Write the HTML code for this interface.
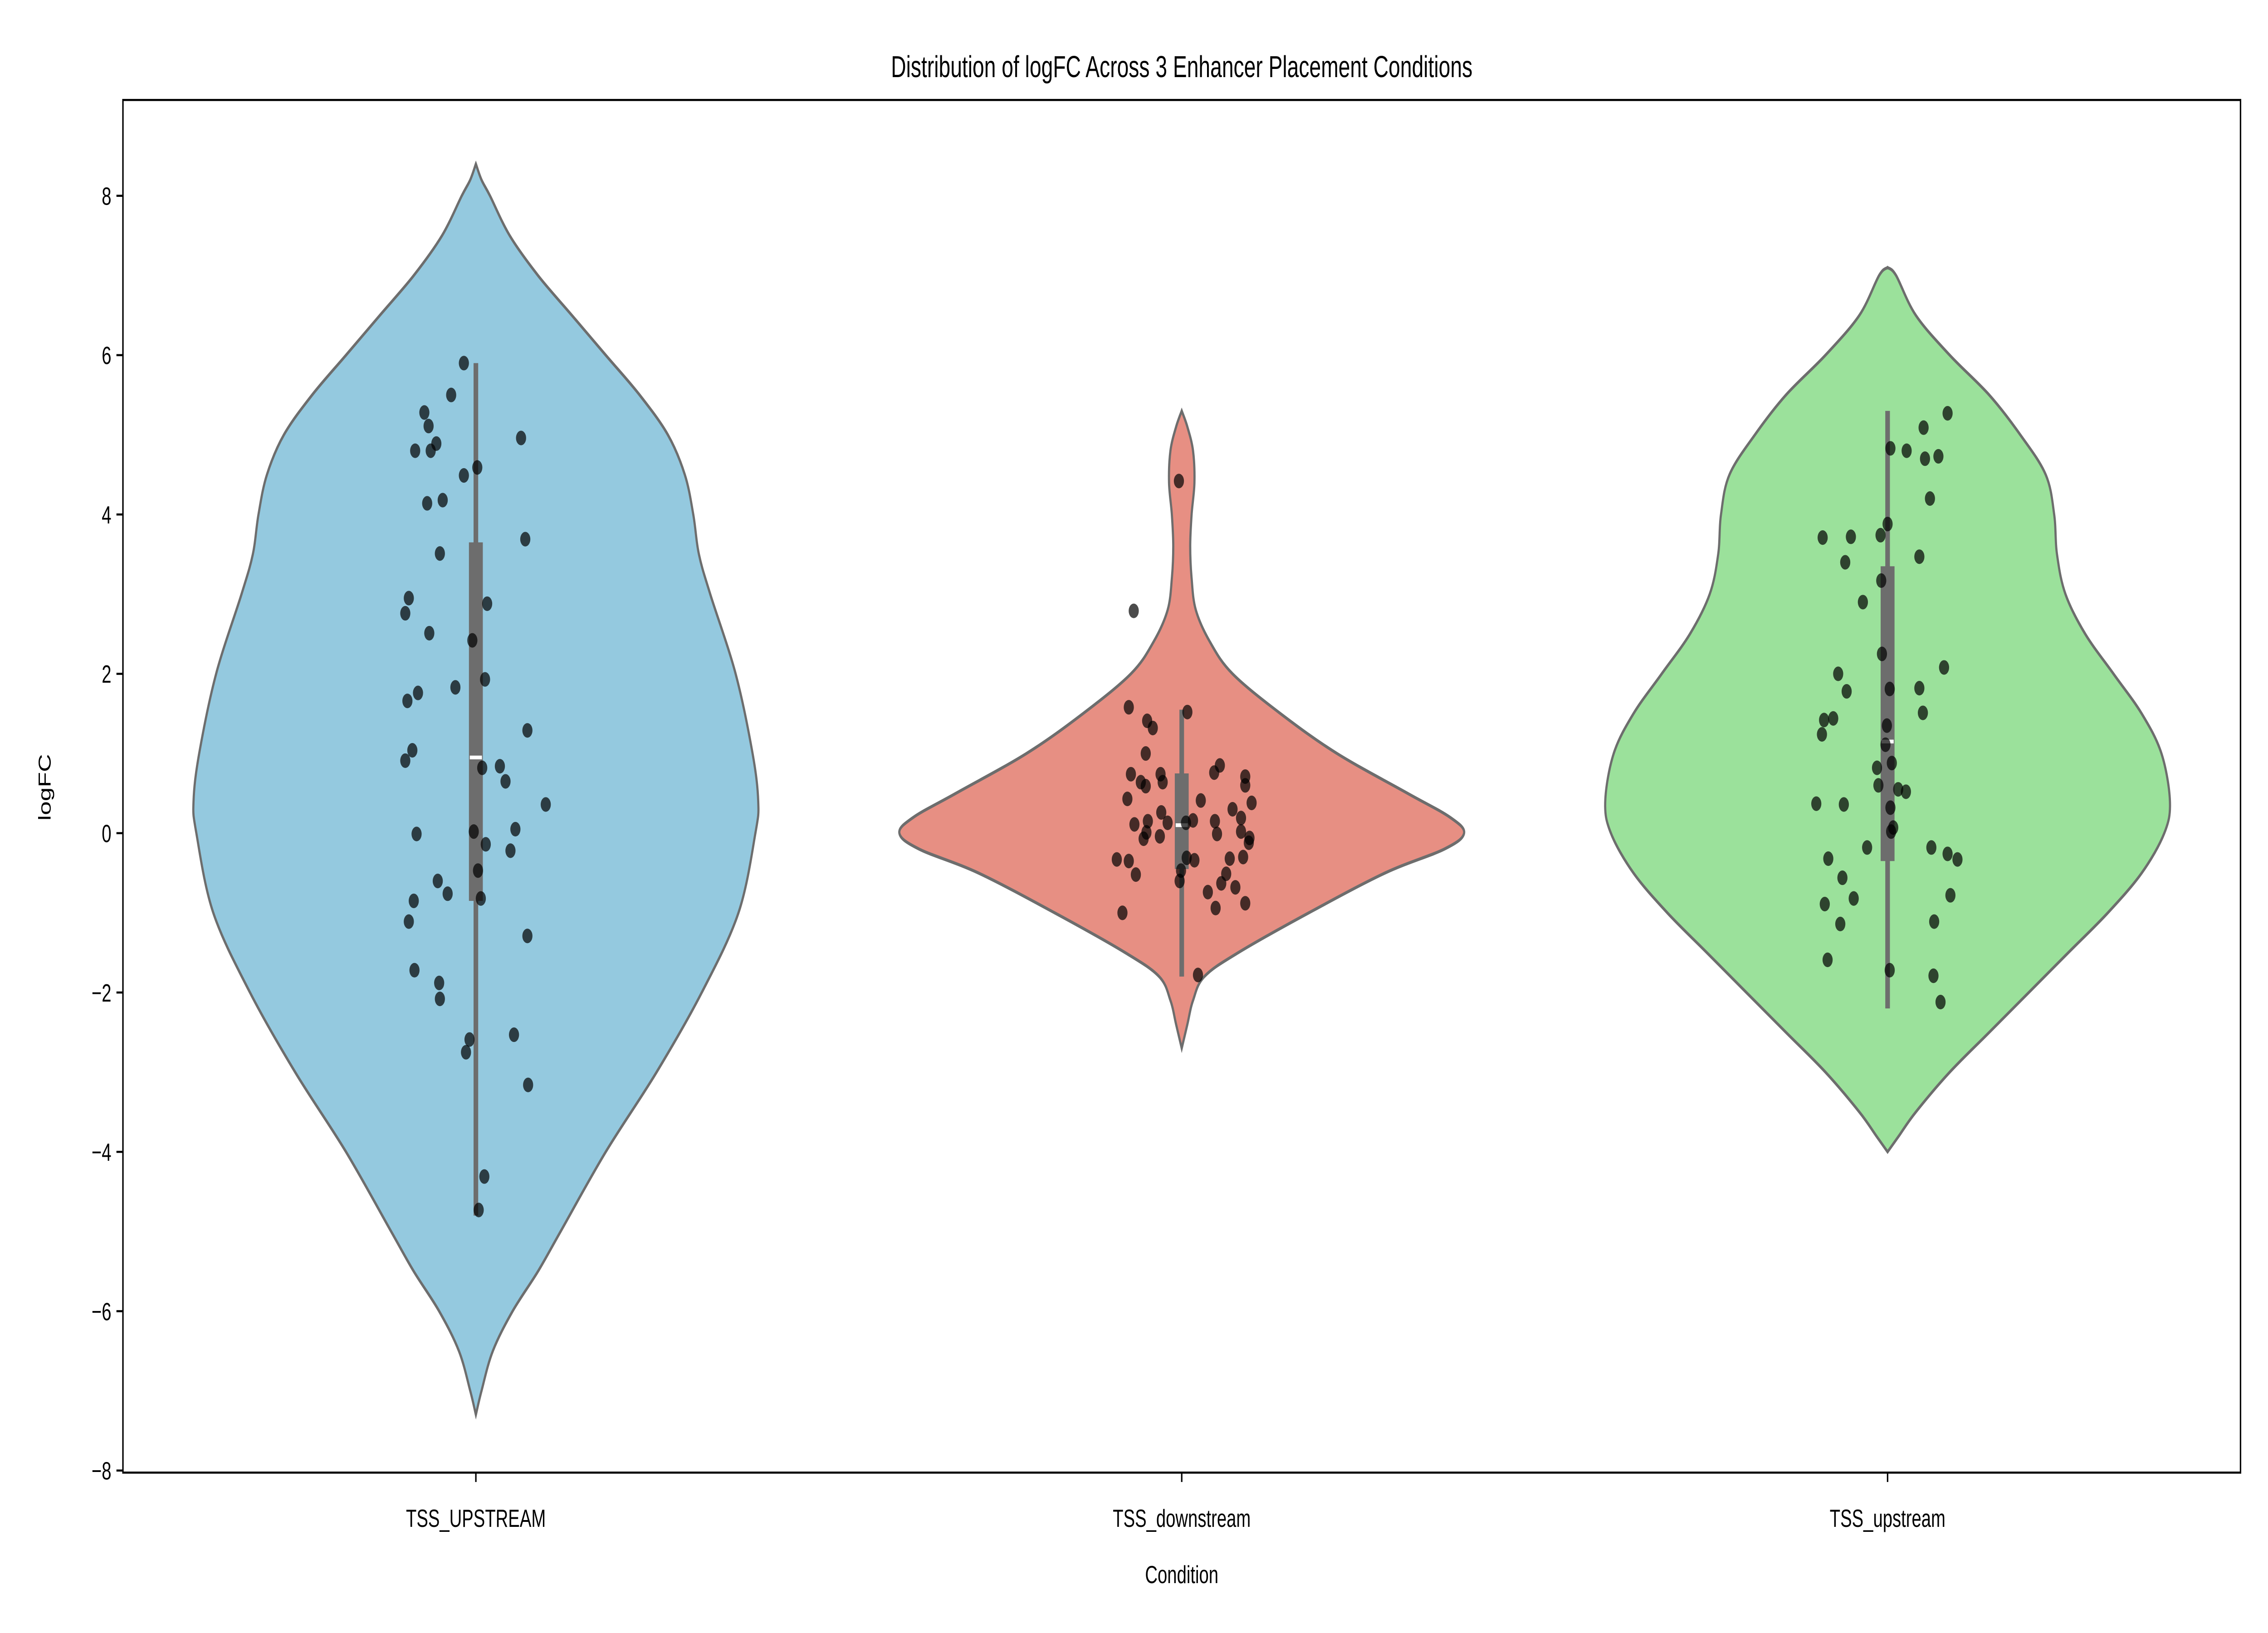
<!DOCTYPE html>
<html><head><meta charset="utf-8"><style>
html,body{margin:0;padding:0;background:#fff;width:100vw;height:100vh;overflow:hidden}
svg{display:block;width:100vw;height:100vh}
text{font-family:"Liberation Sans","DejaVu Sans",sans-serif;fill:#000}
</style></head><body>
<svg viewBox="0 0 1568 784" preserveAspectRatio="none" xmlns="http://www.w3.org/2000/svg">
<g id="chart">
<rect x="0" y="0" width="1568" height="784" fill="#fff"/>
<text x="817" y="37" font-size="14.5" text-anchor="middle">Distribution of logFC Across 3 Enhancer Placement Conditions</text>
<g id="plot"></g>
<rect x="85" y="48" width="1464" height="659" fill="none" stroke="#000" stroke-width="1"/>
<text x="817" y="760" font-size="12" text-anchor="middle">Condition</text>
<text x="0" y="0" font-size="12" text-anchor="middle" transform="translate(35,378) rotate(-90)">logFC</text>
</g>
</svg>
<script>
const categories = ["TSS_UPSTREAM", "TSS_downstream", "TSS_upstream"];
const fills = ["#94c9df", "#e78f83", "#9be19b"];
const yTicks = [-8, -6, -4, -2, 0, 2, 4, 6, 8];
const yTickLabels = ["\u22128", "\u22126", "\u22124", "\u22122", "0", "2", "4", "6", "8"];

// violin density profiles: [value, relative half-width]
const profile1 = [[8.4,0],[8.2,0.02],[8,0.05],[7.5,0.12],[7,0.22],[6.5,0.34],[6,0.46],[5.5,0.58],[5,0.68],[4.5,0.74],[4,0.77],[3.5,0.79],[3,0.83],[2,0.92],[1,0.98],[0.4,1],[0,0.99],[-1,0.93],[-2,0.8],[-3,0.64],[-4,0.46],[-5,0.3],[-5.5,0.22],[-6,0.13],[-6.5,0.06],[-7,0.02],[-7.3,0]];
const profile2 = [[5.3,0],[5.1,0.02],[4.8,0.04],[4.4,0.045],[4,0.035],[3.6,0.03],[3.2,0.035],[2.8,0.05],[2.4,0.1],[2,0.18],[1.5,0.35],[1,0.55],[0.5,0.8],[0.2,0.95],[0,1],[-0.2,0.93],[-0.5,0.72],[-1,0.45],[-1.5,0.2],[-1.8,0.08],[-2.1,0.04],[-2.4,0.02],[-2.7,0]];
const profile3 = [[7.1,0],[7.0,0.03],[6.5,0.1],[6,0.22],[5.5,0.36],[5,0.47],[4.5,0.56],[4,0.59],[3.5,0.6],[3,0.63],[2.5,0.7],[2,0.8],[1.5,0.9],[1,0.97],[0.4,1],[0,0.98],[-0.5,0.9],[-1,0.78],[-1.5,0.64],[-2,0.5],[-2.5,0.36],[-3,0.22],[-3.5,0.1],[-3.8,0.04],[-4,0]];

// box stats: [whiskerLow, q1, median, q3, whiskerHigh]
const box1 = [-4.8, -0.85, 0.95, 3.65, 5.9];
const box2 = [-1.8, -0.45, 0.1, 0.75, 1.55];
const box3 = [-2.2, -0.35, 1.15, 3.35, 5.3];

const values1 = [5.90,5.50,5.28,5.11,4.89,4.80,4.80,4.96,4.59,4.49,4.14,4.18,3.51,3.69,2.95,2.76,2.51,2.88,2.42,1.93,1.83,1.76,1.66,1.29,1.04,0.91,0.82,0.84,0.65,0.36,0.05,0.02,-0.01,-0.14,-0.22,-0.47,-0.60,-0.76,-0.85,-0.82,-1.11,-1.29,-1.72,-1.88,-2.08,-2.59,-2.53,-2.75,-3.16,-4.31,-4.73];
const jitter1 = [-0.017,-0.035,-0.073,-0.067,-0.056,-0.086,-0.064,0.064,0.002,-0.017,-0.069,-0.047,-0.051,0.070,-0.095,-0.100,-0.066,0.016,-0.005,0.013,-0.029,-0.082,-0.097,0.073,-0.090,-0.100,0.009,0.034,0.042,0.099,0.056,-0.003,-0.084,0.014,0.049,0.003,-0.054,-0.040,-0.088,0.007,-0.095,0.073,-0.087,-0.052,-0.051,-0.009,0.054,-0.014,0.074,0.012,0.004];
const values2 = [4.42,2.79,1.58,1.52,1.41,1.32,1.00,0.85,0.76,0.71,0.60,0.74,0.74,0.64,0.64,0.59,0.43,0.41,0.38,0.30,0.26,0.19,0.15,0.16,0.15,0.11,0.13,0.13,0.02,0.01,-0.01,-0.06,-0.12,-0.07,-0.04,-0.33,-0.35,-0.31,-0.34,-0.32,-0.30,-0.47,-0.52,-0.51,-0.60,-0.63,-0.68,-0.74,-0.94,-0.88,-1.00,-1.78];
const jitter2 = [-0.004,-0.068,-0.075,0.008,-0.049,-0.041,-0.051,0.054,0.046,0.090,0.090,-0.072,-0.030,-0.027,-0.058,-0.051,-0.077,0.027,0.099,0.072,-0.029,0.084,-0.048,0.016,0.047,-0.067,-0.020,0.006,0.084,-0.050,0.050,0.096,0.095,-0.054,-0.031,-0.092,-0.075,0.007,0.018,0.068,0.087,-0.001,-0.065,0.063,-0.003,0.056,0.076,0.037,0.048,0.090,-0.084,0.023];
const values3 = [5.27,5.09,4.83,4.80,4.70,4.73,4.20,3.88,3.74,3.71,3.72,3.47,3.40,3.17,2.90,2.25,2.08,2.00,1.81,1.82,1.78,1.51,1.42,1.44,1.24,1.35,1.11,0.88,0.82,0.60,0.55,0.52,0.37,0.36,0.32,0.07,0.02,-0.18,-0.18,-0.26,-0.33,-0.32,-0.56,-0.78,-0.82,-0.89,-1.11,-1.14,-1.59,-1.72,-1.79,-2.12];
const jitter3 = [0.085,0.051,0.004,0.027,0.053,0.072,0.060,0.000,-0.010,-0.092,-0.052,0.045,-0.060,-0.009,-0.035,-0.008,0.080,-0.070,0.003,0.045,-0.058,0.050,-0.090,-0.077,-0.093,-0.001,-0.003,0.006,-0.015,-0.013,0.015,0.026,-0.101,-0.062,0.004,0.008,0.005,-0.029,0.062,0.085,0.099,-0.084,-0.064,0.089,-0.048,-0.089,0.066,-0.067,-0.085,0.003,0.065,0.075];

const profiles = [profile1, profile2, profile3];
const boxes = [box1, box2, box3];
const valueSets = [values1, values2, values3];
const jitterSets = [jitter1, jitter2, jitter3];

const NS = "http://www.w3.org/2000/svg";
const L = 85, R = 1549, T = 48, B = 707;
const yScale = v => 400 - v * 38.25;
const band = (R - L) / categories.length;
const xScale = c => L + band * (c + 0.5);
const halfMax = band * 0.4;

const root = document.getElementById("chart");
const plot = document.getElementById("plot");
function mk(tag, attrs, parent) {
  const el = document.createElementNS(NS, tag);
  for (const k in attrs) el.setAttribute(k, attrs[k]);
  (parent || plot).appendChild(el);
  return el;
}
function smoothPath(pts) {
  let d = "M" + pts[0][0].toFixed(2) + "," + pts[0][1].toFixed(2);
  for (let i = 0; i < pts.length - 1; i++) {
    const p0 = pts[Math.max(i - 1, 0)], p1 = pts[i], p2 = pts[i + 1], p3 = pts[Math.min(i + 2, pts.length - 1)];
    const c1x = p1[0] + (p2[0] - p0[0]) / 6, c1y = p1[1] + (p2[1] - p0[1]) / 6;
    const c2x = p2[0] - (p3[0] - p1[0]) / 6, c2y = p2[1] - (p3[1] - p1[1]) / 6;
    d += "C" + c1x.toFixed(2) + "," + c1y.toFixed(2) + " " + c2x.toFixed(2) + "," + c2y.toFixed(2) + " " + p2[0].toFixed(2) + "," + p2[1].toFixed(2);
  }
  return d;
}

categories.forEach((cat, ci) => {
  const cx = xScale(ci);
  const prof = profiles[ci];
  const right = prof.map(p => [cx + p[1] * halfMax, yScale(p[0])]);
  const left = prof.slice().reverse().map(p => [cx - p[1] * halfMax, yScale(p[0])]);
  const d = smoothPath(right) + smoothPath(left).replace(/^M/, "L") + "Z";
  const v = mk("path", { d: d, fill: fills[ci], stroke: "#6d6d6d", "stroke-width": 1.5 });
  
  

  const b = boxes[ci];
  const wh = mk("rect", { x: cx - 1.6, y: yScale(b[4]), width: 3.2, height: yScale(b[0]) - yScale(b[4]), fill: "#6d6d6d" });
  
  
  const bx = mk("rect", { x: cx - 4.8, y: yScale(b[3]), width: 9.6, height: yScale(b[1]) - yScale(b[3]), fill: "#6d6d6d" });
  
  
  const md = mk("line", { x1: cx - 4.2, x2: cx + 4.2, y1: yScale(b[2]), y2: yScale(b[2]), stroke: "#fff", "stroke-width": 1.8 });
  
  

  const vals = valueSets[ci], jit = jitterSets[ci];
  vals.forEach((val, i) => {
    const c = mk("circle", { cx: cx + jit[i] * band, cy: yScale(val), r: 3.5, fill: "#000", "fill-opacity": 0.7 });
    
    
  });

  const tk = mk("line", { x1: cx, x2: cx, y1: B, y2: B + 4.5, stroke: "#000", "stroke-width": 1 }, root);
  
  
  const tl = mk("text", { x: cx, y: B + 26, "font-size": 12, "text-anchor": "middle" }, root);
  tl.textContent = cat;
  
  
});

yTicks.forEach((t, i) => {
  const y = yScale(t);
  const tk = mk("line", { x1: L - 4.5, x2: L, y1: y, y2: y, stroke: "#000", "stroke-width": 1 }, root);
  
  
  const tl = mk("text", { x: L - 8, y: y + 4.3, "font-size": 12, "text-anchor": "end" }, root);
  tl.textContent = yTickLabels[i];
  
  
});
</script>
</body></html>
